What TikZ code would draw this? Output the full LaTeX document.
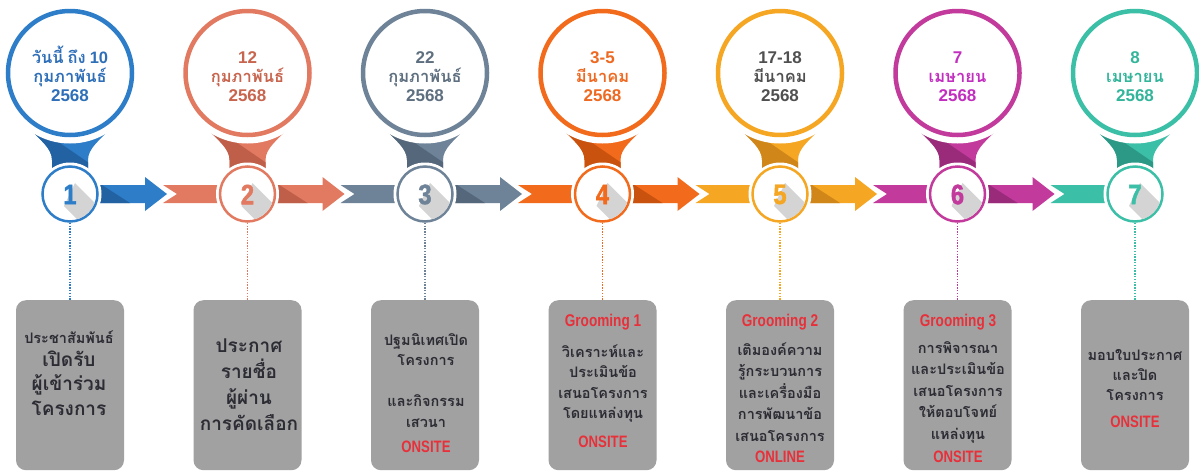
\documentclass[tikz,border=0pt]{standalone}
\usepackage{fontspec}
\newfontfamily\thai[Script=Thai]{Loma}
\newfontfamily\cond{Liberation Sans}
\newfontfamily\condn[FakeStretch=0.8]{Liberation Sans}
\newfontfamily\heavy[FakeStretch=0.85,FakeBold=1.6]{Liberation Sans}
\usetikzlibrary{calc}
\definecolor{mA}{HTML}{2E7DC8}\definecolor{dA}{HTML}{2262A3}\definecolor{tA}{HTML}{2F6FB8}
\definecolor{mB}{HTML}{E27A62}\definecolor{dB}{HTML}{BF5F4A}\definecolor{tB}{HTML}{C8654F}
\definecolor{mC}{HTML}{6E8398}\definecolor{dC}{HTML}{55677A}\definecolor{tC}{HTML}{5E6F80}
\definecolor{mD}{HTML}{F26A1B}\definecolor{dD}{HTML}{C9520F}\definecolor{tD}{HTML}{EE6A22}
\definecolor{mE}{HTML}{F5A623}\definecolor{dE}{HTML}{D08618}\definecolor{tE}{HTML}{505050}
\definecolor{mF}{HTML}{C23A9B}\definecolor{dF}{HTML}{9A2B7A}\definecolor{tF}{HTML}{C22EC0}
\definecolor{mG}{HTML}{3CBFA7}\definecolor{dG}{HTML}{2B9986}\definecolor{tG}{HTML}{33B59B}
\definecolor{boxgray}{HTML}{A1A1A1}
\definecolor{boxtext}{HTML}{2C2C34}
\definecolor{redtxt}{HTML}{E8303A}
\definecolor{shadowgray}{HTML}{D4D4D4}
\tikzset{
  bigcirc/.style={circle, minimum size=124pt, inner sep=0pt, line width=4.5pt, fill=white},
  smallcirc/.style={circle, minimum size=55pt, inner sep=0pt, line width=2.5pt, fill=white},
  stepbox/.style={fill=boxgray, rounded corners=10pt, minimum width=108pt, minimum height=170pt, anchor=north, inner sep=0pt},
  datenum/.style={anchor=base, inner sep=0pt, font=\cond\bfseries\fontsize{17}{20}\selectfont},
  datethai/.style={anchor=base, inner sep=0pt, font=\thai\bfseries\fontsize{16.5}{20}\selectfont},
  digit/.style={inner sep=0pt, font=\heavy\bfseries\fontsize{28}{28}\selectfont},
  smalltxt/.style={anchor=base, inner sep=0pt, text=boxtext, font=\thai\bfseries\fontsize{14.5}{16}\selectfont},
  bigtxt/.style={anchor=base, inner sep=0pt, text=boxtext, font=\thai\bfseries\fontsize{19}{22}\selectfont},
  redtag/.style={anchor=base, inner sep=0pt, text=redtxt, font=\condn\bfseries\fontsize{16.5}{18}\selectfont},
  grtag/.style={anchor=base, inner sep=0pt, text=redtxt, font=\condn\bfseries\fontsize{17}{18}\selectfont},
  dotline/.style={line width=1.7pt, dash pattern=on 1.4pt off 1.4pt}
}
\begin{document}
\begin{tikzpicture}[x=1pt,y=-1pt]
\useasboundingbox (0,0) rectangle (1199,472);
\fill[white] (0,0) rectangle (1199,472);
\foreach \i/\L in {1/A,2/B,3/C,4/D,5/E,6/F,7/G}{
  \pgfmathsetmacro\cx{70+177.5*(\i-1)}
  % arrow pieces
  \ifnum\i>1
    \fill[m\L] (\cx-84.5,185) -- (\cx-70.5,194) -- (\cx-84.5,203) -- (\cx,203) -- (\cx,185) -- cycle;
  \fi
  \ifnum\i<7
    \fill[m\L] (\cx,185) -- (\cx+75,185) -- (\cx+75,177) -- (\cx+97,194) -- (\cx+75,211) -- (\cx+75,203) -- (\cx,203) -- cycle;
    \fill[d\L] (\cx+20,185) -- (\cx+32,185) -- (\cx+60,203) -- (\cx+10,203) -- cycle;
  \fi
  % funnel
  \begin{scope}
    \clip (\cx-43,126) .. controls (\cx-30,140) and (\cx-18,148) .. (\cx-18,160) -- (\cx-18,175) -- (\cx+18,175) -- (\cx+18,160) .. controls (\cx+18,148) and (\cx+30,140) .. (\cx+43,126) -- cycle;
    \fill[m\L] (\cx-45,120) rectangle (\cx+45,180);
    \fill[d\L] (\cx-45,126) -- (\cx-16,139) -- (\cx+22,165) -- (\cx+22,180) -- (\cx-45,180) -- cycle;
  \end{scope}
  % big circle
  \fill[white] (\cx,73) circle (70.5);
  \node[bigcirc, draw=m\L] (c\i) at (\cx,73) {};
  % small circle
  \fill[white] (\cx,194) circle (31.5);
  \node[smallcirc, draw=m\L] (s\i) at (\cx,194) {};
  \begin{scope}
    \clip (\cx,194) circle (26.2);
    \fill[shadowgray] (\cx+5,183) -- (\cx+47,225) -- (\cx+47,247) -- (\cx+35,247) -- (\cx-6,206) -- cycle;
  \end{scope}
  \node[digit, text=m\L] (n\i) at (\cx,194.5) {\i};
  % box and dotted connector
  \node[stepbox] (b\i) at (\cx,300) {};
  \draw[dotline, m\L] (s\i.south) -- (b\i.north);
}
% dates
\node[datethai, text=tA] (d1a) at (70,63.5) {วันนี้\hspace{4pt}ถึง\hspace{4pt}{\cond 10}};
\node[datethai, text=tA] (d1b) at (70,82.5) {กุมภาพันธ์};
\node[datenum, text=tA] (d1c) at (70,101) {2568};
\node[datenum, text=tB] (d2a) at (247.5,63.5) {12};
\node[datethai, text=tB] (d2b) at (247.5,82.5) {กุมภาพันธ์};
\node[datenum, text=tB] (d2c) at (247.5,101) {2568};
\node[datenum, text=tC] (d3a) at (425,63.5) {22};
\node[datethai, text=tC] (d3b) at (425,82.5) {กุมภาพันธ์};
\node[datenum, text=tC] (d3c) at (425,101) {2568};
\node[datenum, text=tD] (d4a) at (602.5,63.5) {3-5};
\node[datethai, text=tD] (d4b) at (602.5,82.5) {มีนาคม};
\node[datenum, text=tD] (d4c) at (602.5,101) {2568};
\node[datenum, text=tE] (d5a) at (780,63.5) {17-18};
\node[datethai, text=tE] (d5b) at (780,82.5) {มีนาคม};
\node[datenum, text=tE] (d5c) at (780,101) {2568};
\node[datenum, text=tF] (d6a) at (957.5,63.5) {7};
\node[datethai, text=tF] (d6b) at (957.5,82.5) {เมษายน};
\node[datenum, text=tF] (d6c) at (957.5,101) {2568};
\node[datenum, text=tG] (d7a) at (1135,63.5) {8};
\node[datethai, text=tG] (d7b) at (1135,82.5) {เมษายน};
\node[datenum, text=tG] (d7c) at (1135,101) {2568};
% box 1
\node[smalltxt] (t1a) at (69,343) {ประชาสัมพันธ์};
\foreach \t [count=\k] in {เปิดรับ, ผู้เข้าร่วม, โครงการ}
  \node[bigtxt] (t1-\k) at (69,{366+24.8*(\k-1)}) {\t};
% box 2
\foreach \t [count=\k] in {ประกาศ, รายชื่อ, ผู้ผ่าน, การคัดเลือก}
  \node[bigtxt] (t2-\k) at (249,{352+26*(\k-1)}) {\t};
% box 3
\foreach \t [count=\k] in {ปฐมนิเทศเปิด, โครงการ, {}, และกิจกรรม, เสวนา}
  \node[smalltxt] (t3-\k) at (426,{345+20.5*(\k-1)}) {\t};
\node[redtag] (r3) at (426,452) {ONSITE};
% box 4
\node[grtag] (g4) at (603,326) {Grooming 1};
\foreach \t [count=\k] in {วิเคราะห์และ, ประเมินข้อ, เสนอโครงการ, โดยแหล่งทุน}
  \node[smalltxt] (t4-\k) at (603,{357+20.5*(\k-1)}) {\t};
\node[redtag] (r4) at (603,447) {ONSITE};
% box 5
\node[grtag] (g5) at (780,326) {Grooming 2};
\foreach \t [count=\k] in {เติมองค์ความ, รู้กระบวนการ, และเครื่องมือ, การพัฒนาข้อ, เสนอโครงการ}
  \node[smalltxt] (t5-\k) at (780,{355+21.5*(\k-1)}) {\t};
\node[redtag] (r5) at (780,462) {ONLINE};
% box 6
\node[grtag] (g6) at (958,326) {Grooming 3};
\foreach \t [count=\k] in {การพิจารณา, และประเมินข้อ, เสนอโครงการ, ให้ตอบโจทย์, แหล่งทุน}
  \node[smalltxt] (t6-\k) at (958,{353+21.5*(\k-1)}) {\t};
\node[redtag] (r6) at (958,462) {ONSITE};
% box 7
\foreach \t [count=\k] in {มอบใบประกาศ, และปิด, โครงการ}
  \node[smalltxt] (t7-\k) at (1135,{360+20.3*(\k-1)}) {\t};
\node[redtag] (r7) at (1135,427) {ONSITE};
\end{tikzpicture}
\end{document}
